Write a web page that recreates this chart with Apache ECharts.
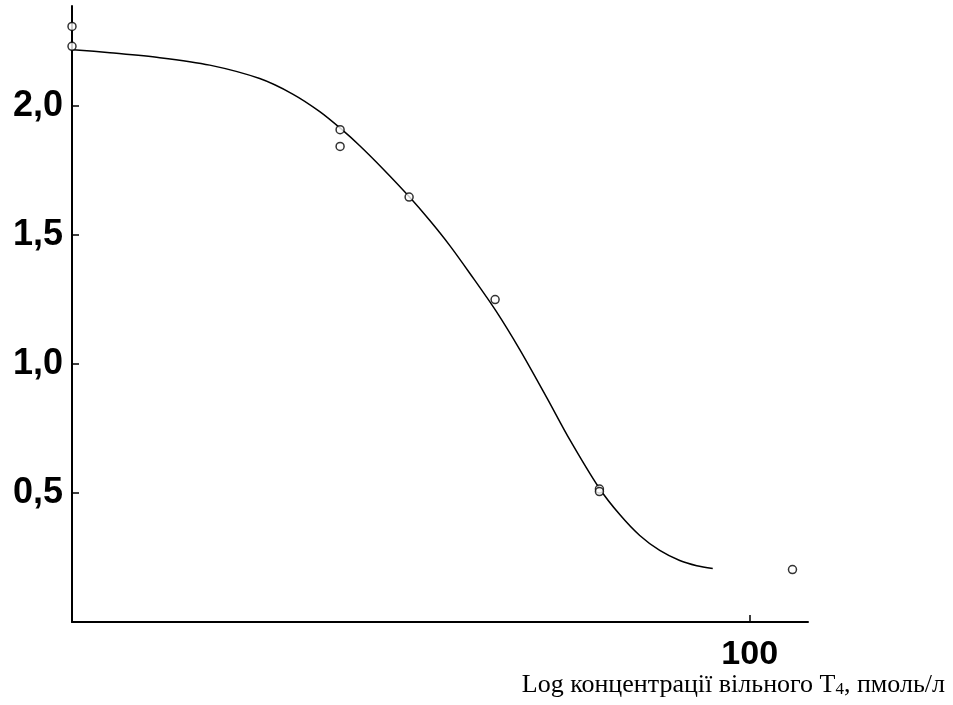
<!DOCTYPE html>
<html>
<head>
<meta charset="utf-8">
<script src="https://cdn.jsdelivr.net/npm/echarts@6/dist/echarts.min.js"></script>
<style>
html,body{margin:0;padding:0;background:#fff;}
#chart{width:953px;height:705px;}
</style>
</head>
<body>
<div id="chart"></div>
<script>
// Measured points: concentration (pmol/L, log axis) and response
const pointConc = [2, 2, 9.4, 9.4, 14, 23, 42, 42, 128];
const pointVal  = [2.307, 2.23, 1.907, 1.842, 1.646, 1.249, 0.515, 0.505, 0.203];

// Fitted curve
const curveConc = [2.01, 2.49, 3.32, 4.43, 5.91, 7.15, 8.36, 9.44, 10.53, 12.03, 13.98, 15.78, 17.71, 19.87, 23.09, 26.52, 30.99, 35.39, 41.84, 47.23, 53.01, 59.49, 66.77, 73.66, 80.79];
const curveVal  = [2.217, 2.205, 2.186, 2.157, 2.105, 2.045, 1.977, 1.911, 1.845, 1.756, 1.649, 1.555, 1.458, 1.351, 1.206, 1.055, 0.869, 0.706, 0.521, 0.416, 0.335, 0.277, 0.238, 0.218, 0.207];

const yTicks = [0.5, 1.0, 1.5, 2.0];
const xTicks = [100];
const xTitle = 'Log концентрації вільного T';
const xTitleSub = '4';
const xTitleTail = ', пмоль/л';

const chart = echarts.init(document.getElementById('chart'), null, {renderer: 'canvas'});

const sansBold = {
  fontFamily: '"Liberation Sans", Arial, sans-serif',
  fontWeight: 'bold',
  color: '#000'
};
const serif = '"Liberation Serif", "Times New Roman", serif';

chart.setOption({
  animation: false,
  backgroundColor: '#fff',
  grid: {left: 72, right: 145, top: 6, bottom: 83, containLabel: false},
  xAxis: {
    type: 'log',
    logBase: 10,
    min: 2,
    max: 140,
    axisLine: {show: true, onZero: false, lineStyle: {color: '#000', width: 2}},
    axisTick: {show: true, inside: true, length: 7, customValues: xTicks, lineStyle: {color: '#000', width: 1.5}},
    axisLabel: Object.assign({show: true, margin: 16, fontSize: 34, customValues: xTicks, formatter: v => String(Math.round(v))}, sansBold),
    splitLine: {show: false},
    minorTick: {show: false}
  },
  yAxis: {
    type: 'value',
    min: 0,
    max: 2.386,
    axisLine: {show: true, onZero: false, lineStyle: {color: '#000', width: 2}},
    axisTick: {show: true, inside: true, length: 7, customValues: yTicks, lineStyle: {color: '#000', width: 1.5}},
    axisLabel: Object.assign({show: true, margin: 9, fontSize: 36, customValues: yTicks, formatter: v => v.toFixed(1).replace('.', ',')}, sansBold),
    splitLine: {show: false}
  },
  series: [
    {
      type: 'line',
      data: curveConc.map((c, i) => [c, curveVal[i]]),
      smooth: 0.3,
      showSymbol: false,
      lineStyle: {color: '#000', width: 1.5},
      z: 2
    },
    {
      type: 'scatter',
      data: pointConc.map((c, i) => [c, pointVal[i]]),
      symbol: 'circle',
      symbolSize: 8,
      itemStyle: {color: '#fff', borderColor: '#000', borderWidth: 1.5},
      clip: false,
      z: 3
    }
  ],
  graphic: [{
    type: 'text',
    right: 8,
    top: 672,
    style: {
      text: '{m|' + xTitle + '}{s|' + xTitleSub + '}{m|' + xTitleTail + '}',
      rich: {
        m: {fontFamily: serif, fontSize: 26, fill: '#000', verticalAlign: 'bottom', lineHeight: 30},
        s: {fontFamily: serif, fontSize: 17, fill: '#000', verticalAlign: 'bottom', lineHeight: 22}
      }
    }
  }]
});
</script>
</body>
</html>
